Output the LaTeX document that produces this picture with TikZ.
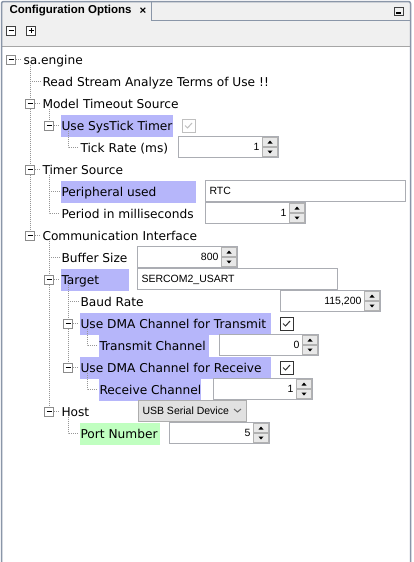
\documentclass[tikz,border=0pt]{standalone}
\usepackage{fontspec}
\setmainfont{DejaVu Sans}
\newfontfamily\uifont{Liberation Sans}
\definecolor{frame}{RGB}{138,150,168}
\definecolor{barbg}{RGB}{240,240,240}
\definecolor{hl}{RGB}{182,182,250}
\definecolor{hlgreen}{RGB}{192,255,192}
\definecolor{fieldline}{RGB}{171,173,179}
\definecolor{treeline}{RGB}{150,150,150}
\definecolor{btnbg}{RGB}{232,232,232}
\definecolor{combobg}{RGB}{225,225,225}
\definecolor{combobord}{RGB}{173,173,173}
\tikzset{
  lbl/.style={anchor=west, inner xsep=1pt, inner ysep=0pt, minimum height=22pt,
    text height=10pt, text depth=1pt, font=\fontsize{12.2}{14}\selectfont},
  hlbox/.style={lbl, fill=#1},
  expander/.style={draw=black!45, fill=white, minimum size=9pt, inner sep=0pt,
    path picture={\draw[black, line width=1pt] ([xshift=2pt]path picture bounding box.west)
      -- ([xshift=-2pt]path picture bounding box.east);}},
  toolbtn/.style={expander, draw=black!75},
  tree/.style={draw=treeline, dash pattern=on 1pt off 1pt},
  field/.style={draw=fieldline, fill=white, anchor=west, minimum height=21.5pt, inner sep=0pt},
  spinhalf/.style={draw=black!30, fill=btnbg, minimum width=15pt, minimum height=9.5pt, inner sep=0pt},
  value/.style={font=\uifont\fontsize{10.5}{12}\selectfont, inner sep=0pt, text height=7.5pt, text depth=0pt},
  checkbox/.style={draw=#1, fill=white, minimum size=13pt, inner sep=0pt},
  title/.style={font=\uifont\bfseries\fontsize{11.5}{13}\selectfont, inner sep=0pt}
}
\begin{document}
\begin{tikzpicture}[x=1pt, y=-1pt, line width=1pt]
  \def \rowy {59.5}
  \def \rowh {22} % one tree row, in pixels
  \useasboundingbox (0,0) rectangle (414,562);
  \fill[white] (0,0) rectangle (414,562);
  \fill[barbg] (2,2) rectangle (410,46);
  \draw[frame] (151,2) -- (151,20) -- (410,20);
  \draw[black!35] (2,46.5) -- (410,46.5);
  \draw[frame, line width=1.5pt, rounded corners=2pt] (1.5,1.5) rectangle (410.5,570);
  \node[title, anchor=west] (tab) at (9,11) {Configuration Options};
  \node[title] (tabclose) at (143,11) {×};
  \node[draw=black!75, minimum width=9pt, minimum height=8pt, inner sep=0pt] (minimize) at (398.5,11.5) {};
  \fill (minimize.center) ++(-2.5,0.5) rectangle ++(5,2);
  \node[toolbtn] (collapse) at (11,30.5) {};
  \node[toolbtn] (expand) at (31,30.5) {};
  \draw (expand.center) ++(0,-2.5) -- ++(0,5);

  \foreach \name/\x/\r/\txt in {root/23/0/sa.engine, terms/42/1/Read Stream Analyze Terms of Use !!,
    model/42/2/Model Timeout Source, tick/80/4/Tick Rate (ms), timer/42/5/Timer Source,
    period/61/7/Period in milliseconds, comm/42/8/Communication Interface, buffer/61/9/Buffer Size,
    baud/80/11/Baud Rate, host/61/16/Host}
    \node[lbl] (\name) at (\x-1,{\rowy+\rowh*\r}) {\txt};
  \foreach \name/\x/\r/\w/\c/\txt in {systick/60/3/110/hl/Use SysTick Timer, periph/60/6/133/hl/Peripheral used,
    target/60/10/66/hl/Target, dmatx/79/12/189/hl/Use DMA Channel for Transmit,
    txch/98/13/108/hl/Transmit Channel, dmarx/79/14/189/hl/Use DMA Channel for Receive,
    rxch/98/15/100/hl/Receive Channel, port/79/17/78/hlgreen/Port Number}
    \node[hlbox=\c] (\name) at (\x,{\rowy+\rowh*\r}) {\makebox[\w pt][l]{\txt}};
  \foreach \name/\x/\r in {root/11/0, model/30/2, systick/49/3, timer/30/5, comm/30/8,
    target/49/10, dmatx/68/12, dmarx/68/14, host/49/16}
  {
    \node[expander] (\name-x) at (\x,{\rowy+\rowh*\r}) {};
    \draw[tree] (\name-x.east) -- (\name.west);
  }
  \foreach \i/\x in {1/30,2/49,3/68,4/87}
    \coordinate (col\i) at (\x,0);

  \draw[tree] (col1 |- root-x.south) -- (model-x.north);
  \foreach \a/\b in {model/timer, timer/comm, target/host, dmatx/dmarx}
    \draw[tree] (\a-x.south) -- (\b-x.north);
  \draw[tree] (col2 |- model-x.south) -- (systick-x.north);
  \draw[tree] (col2 |- comm-x.south) -- (target-x.north);
  \draw[tree] (col3 |- target-x.south) -- (dmatx-x.north);
  \foreach \c/\p/\leaf in {3/systick/tick, 2/timer/period, 4/dmatx/txch, 4/dmarx/rxch, 3/host/port}
    \draw[tree] (col\c |- \p-x.south) -- (col\c |- \leaf.west) -- (\leaf.west);
  \foreach \c/\leaf in {1/terms, 2/periph, 2/buffer, 3/baud}
    \draw[tree] (col\c |- \leaf.west) -- (\leaf.west);

  \foreach \name/\x/\r/\w/\val in {tick-v/178/4/100/1, period-v/205/7/100/1, buffer-v/137/9/100/800,
    baud-v/280/11/100/{115,200}, txch-v/219/13/99/0, rxch-v/213/15/99/1, port-v/169/17/100/5}
  {
    \node[field, minimum width=\w] (\name) at (\x,{\rowy-0.5+\rowh*\r}) {};
    \node[spinhalf, anchor=north east] (\name-up) at ([xshift=-1pt,yshift=-1pt]\name.north east) {};
    \node[spinhalf, anchor=south east] (\name-dn) at ([xshift=-1pt,yshift=1pt]\name.south east) {};
    \fill[line width=0pt] (\name-up.center) ++(-2.5,1.5) -- ++(5,0) -- ++(-2.5,-3) -- cycle;
    \fill[line width=0pt] (\name-dn.center) ++(-2.5,-1.5) -- ++(5,0) -- ++(-2.5,3) -- cycle;
    \node[value, anchor=east] at ([xshift=-19pt]\name.east) {\val};
  }
  \foreach \name/\x/\r/\w/\val in {periph-v/205/6/200/RTC, target-v/137/10/200/SERCOM2\_USART}
  {
    \node[field, minimum width=\w] (\name) at (\x,{\rowy-0.5+\rowh*\r}) {};
    \node[value, anchor=west] at ([xshift=4pt]\name.west) {\val};
  }
  \node[field, fill=combobg, draw=combobord, minimum width=108] (host-v) at (138,{\rowy-0.5+\rowh*16}) {};
  \node[value, anchor=west] (host-txt) at ([xshift=4pt]host-v.west) {USB Serial Device};
  \draw[black!60] ([xshift=-13pt,yshift=2pt]host-v.east) -- ++(3.5,3) -- ++(3.5,-3);

  \foreach \name/\x/\r/\c in {systick-c/188.5/3/black!25, dmatx-c/286.5/12/black!80, dmarx-c/286.5/14/black!80}
  {
    \node[checkbox=\c] (\name) at (\x,{\rowy+\rowh*\r}) {};
    \draw[\c] ([shift={(-3.5,0)}]\name.center) -- ++(2.5,2.5) -- ++(4.5,-5);
  }
\end{tikzpicture}
\end{document}
